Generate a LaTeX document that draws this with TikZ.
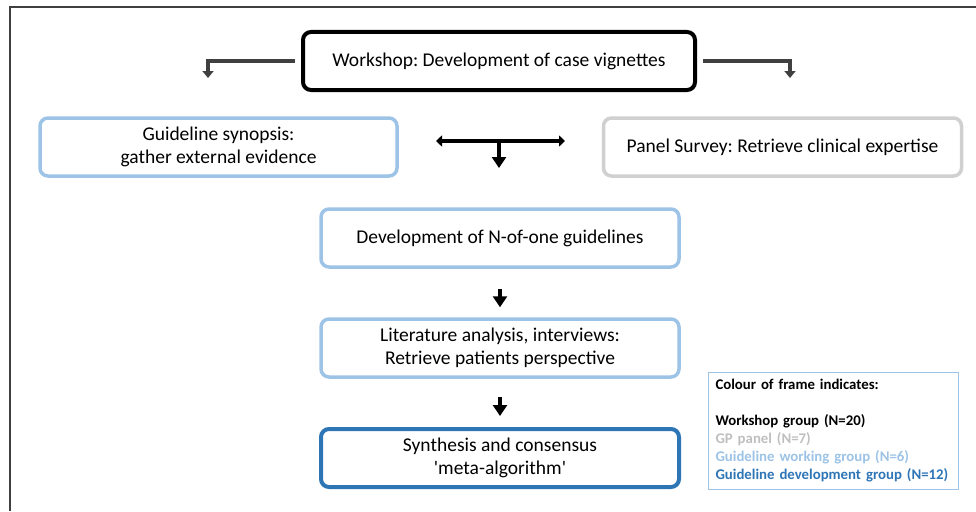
\documentclass[tikz,border=0pt]{standalone}
\usepackage{fontspec}
\setmainfont{Carlito}
\usetikzlibrary{arrows.meta,positioning}
\definecolor{wsblack}{HTML}{000000}
\definecolor{gpgray}{HTML}{D0D0D0}
\definecolor{gpgraytext}{HTML}{BFBFBF}
\definecolor{gwgblue}{HTML}{9DC3E6}
\definecolor{gdgblue}{HTML}{2E75B6}
\definecolor{arrowgray}{HTML}{404040}
\frenchspacing
\begin{document}
\begin{tikzpicture}[x=1pt,y=-1pt,>={Triangle[width=14pt,length=11pt]},
	box/.style={draw,rectangle,rounded corners=8pt,minimum height=58pt,minimum width=358pt,
		align=center,font=\fontsize{19.5}{23}\selectfont,inner sep=2pt},
	workbox/.style={box,draw=wsblack,line width=4pt,minimum width=392pt},
	gpbox/.style={box,draw=gpgray,line width=3.5pt},
	gwgbox/.style={box,draw=gwgblue,line width=3.5pt},
	gdgbox/.style={box,draw=gdgblue,line width=4pt},
	flow/.style={->,line width=3.5pt},
	split/.style={->,line width=4pt,draw=arrowgray,>={Triangle[width=11pt,length=7pt]}}]
	\useasboundingbox (0,0) rectangle (976,511);

	% keret
	\draw[line width=2pt,draw=arrowgray] (10,511) |- (976,7);

	% nagy blokkok
	\node[workbox] (workshop) at (499,61) {Workshop: Development of case vignettes};
	\node[gwgbox,minimum width=357pt] (synopsis) at (218.5,147) {Guideline synopsis:\\gather external evidence};
	\node[gpbox] (panel) at (782.5,147) {Panel Survey: Retrieve clinical expertise};
	\node[gwgbox] (nofone) at (500,238) {Development of N-of-one guidelines};
	\node[gwgbox] (litana) at (500,348) {Literature analysis, interviews:\\Retrieve patients perspective};
	\node[gdgbox] (synth) at (500,458) {Synthesis and consensus\\\textquotesingle meta-algorithm\textquotesingle};

	% workshop kimenetei
	\coordinate (lefttip) at (208,78);
	\coordinate (righttip) at (790,78);
	\draw[split] ([xshift=-6pt]workshop.west) -| (lefttip);
	\draw[split] ([xshift=6pt]workshop.east) -| (righttip);

	% kettos nyil
	\coordinate (dblleft) at (436,141);
	\coordinate (dblright) at (565,141);
	\coordinate (dblmid) at (499,141);
	\coordinate (dbldown) at (499,168);
	\draw[<->,line width=4pt,>={Triangle[width=11pt,length=6pt]}] (dblleft) -- (dblright);
	\draw[flow] (dblmid) -- (dbldown);

	% lefele nyilak
	\draw[flow] ([yshift=-20pt]nofone.south) -- ([yshift=10pt]litana.north);
	\draw[flow] ([yshift=-18pt]litana.south) -- ([yshift=11pt]synth.north);

	% jelmagyarazat
	\node[draw=gwgblue,line width=1pt,rectangle,anchor=north west,minimum width=250pt,minimum height=117pt,
		text width=236pt,align=left,inner sep=7pt,font=\bfseries\fontsize{14.8}{18}\selectfont] (legend) at (708,372)
		{Colour of frame indicates:\\[18pt]
		 \textcolor{wsblack}{Workshop group (N=20)}\\
		 \textcolor{gpgraytext}{GP panel (N=7)}\\
		 \textcolor{gwgblue}{Guideline working group (N=6)}\\
		 \textcolor{gdgblue}{Guideline development group (N=12)}};
\end{tikzpicture}
\end{document}
